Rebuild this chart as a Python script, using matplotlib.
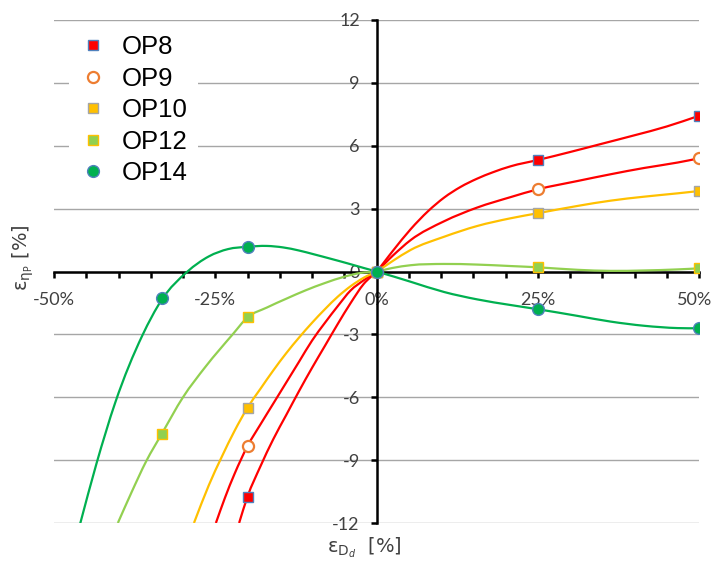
import numpy as np
import matplotlib
matplotlib.use("Agg")
from matplotlib import pyplot as plt
from matplotlib.path import Path
from matplotlib.patches import PathPatch
from matplotlib.lines import Line2D
from matplotlib.ticker import MultipleLocator, FuncFormatter

# Points mesurés (marqueurs)
op8_x = [-20, 0, 25, 50]
op8_y = [-10.74, 0, 5.32, 7.43]
op9_x = [-20, 0, 25, 50]
op9_y = [-8.33, 0, 3.94, 5.40]
op10_x = [-20, 0, 25, 50]
op10_y = [-6.50, 0, 2.78, 3.84]
op12_x = [-33.3, -20, 0, 25, 50]
op12_y = [-7.75, -2.19, 0, 0.20, 0.15]
op14_x = [-33.3, -20, 0, 25, 50]
op14_y = [-1.28, 1.18, 0, -1.80, -2.71]

# Courbes
op8_cx = [-21.3, -20, -18, -16, -14, -12, -10, -8, -6, -4, -2, 0,
          2.5, 5.3, 8, 10.5, 13, 15.6, 18, 20.8, 25, 30, 35, 40, 45, 50]
op8_cy = [-12, -10.74, -9.3, -8.0, -6.85, -5.7, -4.6, -3.55, -2.5, -1.5, -0.6, 0,
          0.97, 2.02, 2.88, 3.53, 4.03, 4.43, 4.73, 5.02, 5.32, 5.7, 6.1, 6.5, 6.92, 7.43]
op9_cx = [-24.9, -23.5, -22, -20, -18, -16, -14, -12, -10, -8, -6, -4, -2, 0,
          2.5, 5.3, 10.5, 15.6, 20.8, 25, 31.2, 36.3, 41.5, 46.7, 50]
op9_cy = [-12, -10.8, -9.65, -8.33, -7.3, -6.3, -5.3, -4.3, -3.3, -2.45, -1.65, -0.9, -0.42, 0,
          0.75, 1.5, 2.4, 3.05, 3.55, 3.92, 4.32, 4.64, 4.94, 5.2, 5.4]
op10_cx = [-28.3, -26, -24, -22, -20, -18, -16, -14, -12, -10, -8, -6, -4, -2, 0,
           2.5, 5.3, 10.5, 15.6, 20.8, 25, 31.2, 36.3, 41.5, 46.7, 50]
op10_cy = [-12, -10.2, -8.85, -7.6, -6.5, -5.6, -4.72, -3.9, -3.15, -2.45, -1.8, -1.2, -0.7, -0.3, 0,
           0.5, 1.03, 1.66, 2.17, 2.54, 2.78, 3.13, 3.38, 3.57, 3.73, 3.84]
op12_cx = [-40.1, -38, -35.7, -33.3, -30, -26.5, -22.3, -20, -17, -14, -11, -8, -5, -2.5, 0,
           2.5, 5.3, 10.5, 15.6, 20.8, 25, 31.2, 36.3, 41.5, 46.7, 50]
op12_cy = [-12, -10.55, -9.05, -7.75, -6.0, -4.54, -3.0, -2.19, -1.72, -1.3, -0.9, -0.55, -0.25, -0.07, 0,
           0.17, 0.3, 0.36, 0.33, 0.26, 0.20, 0.08, 0.03, 0.05, 0.10, 0.15]
op14_cx = [-46.0, -43.4, -40.5, -36.3, -33.3, -29.3, -26, -23, -20, -17, -14.5, -12, -9.7, -7,
           -4.5, -2, 0, 5.3, 10.5, 15.6, 20.8, 25, 31.2, 36.3, 41.5, 46.7, 50]
op14_cy = [-12.1, -9.15, -6.25, -3.05, -1.35, 0, 0.72, 1.07, 1.18, 1.22, 1.15, 1.0, 0.82, 0.6,
           0.39, 0.17, 0, -0.49, -0.98, -1.33, -1.6, -1.80, -2.12, -2.39, -2.59, -2.70, -2.71]

labels = ["OP8", "OP9", "OP10", "OP12", "OP14"]
x_max = 50


def smooth_path(xs, ys):
    # courbe lissée (Hermite cubique en x, tracée en Bézier)
    x = np.asarray(xs, dtype=float)
    y = np.asarray(ys, dtype=float)
    h = np.diff(x)
    d = np.diff(y) / h
    m = np.empty_like(y)
    m[0], m[-1] = d[0], d[-1]
    m[1:-1] = (h[1:] * d[:-1] + h[:-1] * d[1:]) / (h[:-1] + h[1:])
    verts = [(x[0], y[0])]
    codes = [Path.MOVETO]
    for i in range(len(x) - 1):
        verts += [(x[i] + h[i] / 3, y[i] + m[i] * h[i] / 3),
                  (x[i + 1] - h[i] / 3, y[i + 1] - m[i + 1] * h[i] / 3),
                  (x[i + 1], y[i + 1])]
        codes += [Path.CURVE4] * 3
    return Path(verts, codes)


fig = plt.figure(figsize=(7.13, 5.65), dpi=100)
ax = fig.add_axes([54 / 713, 1 - 523 / 565, 645 / 713, 503 / 565])

red = "#ff0000"
styles = [
    (op8_x, op8_y, op8_cx, op8_cy, red, dict(marker="s", ms=6.5, mfc=red, mec="#4f81bd", mew=1.0)),
    (op9_x, op9_y, op9_cx, op9_cy, red, dict(marker="o", ms=8, mfc="white", mec="#ed7d31", mew=1.6)),
    (op10_x, op10_y, op10_cx, op10_cy, "#ffc000", dict(marker="s", ms=6.5, mfc="#ffc000", mec="#a5a5a5", mew=1.0)),
    (op12_x, op12_y, op12_cx, op12_cy, "#92d050", dict(marker="s", ms=6.5, mfc="#92d050", mec="#ffc000", mew=1.0)),
    (op14_x, op14_y, op14_cx, op14_cy, "#00b050", dict(marker="o", ms=8.5, mfc="#00b050", mec="#4f81bd", mew=1.0)),
]

for mx, my, cx, cy, col, mk in styles:
    ax.add_patch(PathPatch(smooth_path(cx, cy), facecolor="none", edgecolor=col, lw=1.6, zorder=3))
handles = []
for (mx, my, cx, cy, col, mk), lab in zip(styles, labels):
    ax.plot(mx, my, ls="none", zorder=4, **mk)
    handles.append(Line2D([], [], ls="none", label=lab, **mk))

ax.set_xlim(-x_max, x_max)
ax.set_ylim(-12, 12)

# Axes centrés en zéro
for s in ["top", "right"]:
    ax.spines[s].set_visible(False)
for s in ["left", "bottom"]:
    ax.spines[s].set_position(("data", 0))
    ax.spines[s].set_linewidth(1.8)
    ax.spines[s].set_zorder(2.5)


def fmt_x(v, p):
    # le libellé 50% est posé à part (décalé pour rester dans l'image)
    if abs(v - x_max) < 1e-6:
        return ""
    return "{:d}%".format(int(round(v)))


ax.xaxis.set_major_locator(MultipleLocator(25))
ax.xaxis.set_minor_locator(MultipleLocator(5))
ax.xaxis.set_major_formatter(FuncFormatter(fmt_x))
ax.yaxis.set_major_locator(MultipleLocator(3))
ax.yaxis.set_major_formatter(FuncFormatter(lambda v, p: "{:d}".format(int(round(v)))))
ax.tick_params(axis="x", which="both", direction="out", length=4, width=1.8, color="black",
               pad=11, labelsize=13, labelcolor="#404040")
ax.tick_params(axis="y", which="major", direction="out", length=4, width=1.8, color="black",
               pad=8, labelsize=13, labelcolor="#404040")
for t in ax.get_xticklabels() + ax.get_yticklabels():
    t.set_family("Lato")
ax.annotate("{:d}%".format(x_max), xy=(x_max, 0), xytext=(-3, -15), textcoords="offset points",
            ha="center", va="top", fontsize=13, color="#404040", family="Lato",
            annotation_clip=False)

ax.grid(axis="y", color="#a6a6a6", lw=1.0, zorder=0)
ax.set_axisbelow(True)

ax.set_ylabel(r"ε$_{\mathrm{η}_{\mathrm{P}}}$ [%]", fontsize=14, color="#404040")
ax.yaxis.set_label_coords(-0.028, 0.527)
ax.set_xlabel(r"ε$_{\mathrm{D}_{d}}$  [%]", fontsize=14, color="#404040")
ax.xaxis.set_label_coords(0.482, -0.024)

leg = ax.legend(handles=handles, loc="upper left", bbox_to_anchor=(0.024, 0.99),
                prop=dict(family="Liberation Sans", size=18.5), handlelength=1.0,
                handletextpad=0.62, labelspacing=0.29, borderpad=0.4, borderaxespad=0,
                frameon=True, fancybox=False, framealpha=1.0)
leg.get_frame().set_edgecolor("none")
leg.get_frame().set_facecolor("white")

fig.savefig("out.png", dpi=100)
